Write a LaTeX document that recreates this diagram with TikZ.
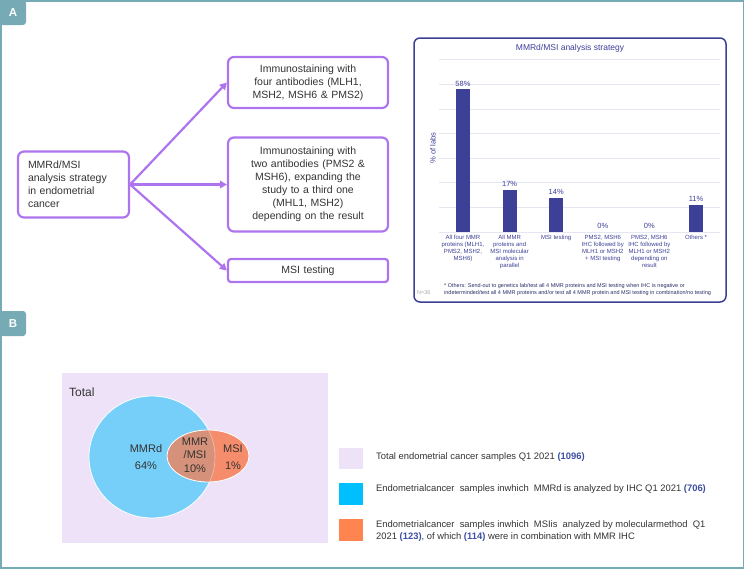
\documentclass[tikz,border=0pt]{standalone}
\usepackage{fontspec}
\setmainfont{Liberation Sans}
\usetikzlibrary{arrows.meta}

\definecolor{framecol}{RGB}{118,170,181}
\definecolor{flowcol}{RGB}{174,116,238}
\definecolor{chartcol}{RGB}{60,64,150}
\definecolor{gridcol}{RGB}{230,230,242}
\definecolor{totalcol}{RGB}{237,226,248}
\definecolor{mmrcol}{RGB}{118,207,248}
\definecolor{msicol}{RGB}{245,140,108}
\definecolor{bothcol}{RGB}{214,145,122}
\definecolor{legblue}{RGB}{0,191,255}
\definecolor{legorange}{RGB}{255,132,80}
\definecolor{numcol}{RGB}{61,79,160}
\definecolor{txtcol}{RGB}{51,51,51}

\newcommand{\labnum}[1]{\textcolor{numcol}{\textbf{(#1)}}}

\tikzset{
flowbox/.style={draw=flowcol, line width=2.2pt, rounded corners=6pt, align=center, text=txtcol,
  font=\fontsize{10.5}{13}\selectfont, inner sep=0pt, minimum width=160pt, text width=150pt},
flowarrow/.style={-{Triangle[length=7pt,width=7.5pt]}, draw=flowcol, line width=2.2pt},
panellabel/.style={fill=framecol, text=white, font=\bfseries\fontsize{11.5}{11.5}\selectfont,
  rounded corners=3pt, minimum width=26pt, minimum height=25pt, inner sep=0pt},
vallabel/.style={font=\fontsize{7.5}{8}\selectfont, text=chartcol, anchor=south, inner sep=0pt},
catlabel/.style={font=\fontsize{6}{7}\selectfont, text=chartcol, align=center, anchor=north, inner sep=0pt},
venntext/.style={font=\fontsize{11}{13.5}\selectfont, text=txtcol, align=center},
legtext/.style={font=\fontsize{9.4}{12}\selectfont, text=txtcol, anchor=west, align=left, inner sep=0pt},
}

\begin{document}
\begin{tikzpicture}[x=1pt, y=-1pt]
\useasboundingbox (0,0) rectangle (745,570);

% outer frame and panel labels
\draw[framecol, line width=1.5pt] (0.8,0.8) rectangle (743.5,568);
\node[panellabel] (labA) at (13,12.5) {A};
\node[panellabel] (labB) at (13,323.5) {B};

% A: strategy flow
\node[flowbox, minimum width=111pt, text width=91pt, align=left, minimum height=66pt] (src) at (73.5,184.5)
  {MMRd/MSI\\analysis strategy\\in endometrial\\cancer};
\node[flowbox, minimum height=51pt] (four) at (308,82.5)
  {Immunostaining with\\four antibodies (MLH1,\\MSH2, MSH6 \& PMS2)};
\node[flowbox, minimum height=94pt] (two) at (308,184.5)
  {Immunostaining with\\two antibodies (PMS2 \&\\MSH6), expanding the\\study to a third one\\(MHL1, MSH2)\\depending on the result};
\node[flowbox, minimum height=23pt, rounded corners=3pt] (msi) at (308,270.5) {MSI testing};

\draw[flowarrow] (src.east) -- (four.west);
\draw[flowarrow] (src.east) -- (two.west);
\draw[flowarrow] (src.east) -- (msi.west);

% A: bar chart
\draw[chartcol, line width=1.5pt, rounded corners=6pt] (414,38) rectangle (726,302);
\node[font=\fontsize{8.5}{10}\selectfont, text=chartcol] (title) at (570,48) {MMRd/MSI analysis strategy};
\foreach \p in {0,10,...,70}
  \draw[gridcol, line width=0.8pt] (439,{232-2.46*\p}) -- (720,{232-2.46*\p});
\node[rotate=90, font=\fontsize{7.6}{8}\selectfont, text=chartcol] (ylab) at (433,148) {\% of labs};

\foreach \i/\v/\lab in {0/58/{All four MMR\\proteins (MLH1,\\PMS2, MSH2,\\MSH6)},
    1/17/{All MMR\\proteins and\\MSI molecular\\analysis in\\parallel},
    2/14/{MSI testing},
    3/0/{PMS2, MSH6\\IHC followed by\\MLH1 or MSH2\\+ MSI testing},
    4/0/{PMS2, MSH6\\IHC followed by\\MLH1 or MSH2\\depending on\\result},
    5/11/{Others *}} {
  \pgfmathsetmacro{\xc}{463+46.6*\i}
  \pgfmathsetmacro{\yt}{232-2.46*\v}
  \ifnum\v>0 \fill[chartcol] (\xc-7,232) rectangle (\xc+7,\yt); \fi
  \node[vallabel] (val\i) at (\xc,\yt-3) {\v\%};
  \node[catlabel] (cat\i) at (\xc,235) {\lab};
}

\node[font=\fontsize{5.5}{7}\selectfont, text=chartcol!70!black, anchor=west, align=left, inner sep=0pt] (note) at (444,289.5)
  {* Others: Send-out to genetics lab/test all 4 MMR proteins and MSI testing when IHC is negative or\\
   indeterminded/test all 4 MMR proteins and/or test all 4 MMR protein and MSI testing in combination/no testing};
\node[font=\fontsize{5.5}{6}\selectfont, text=gray!70, anchor=west, inner sep=0pt] (nlabs) at (417,293) {N=36};

% B: venn diagram
\fill[totalcol] (62,373) rectangle (328,543);
\node[font=\fontsize{12}{14}\selectfont, text=txtcol, anchor=west, inner sep=0pt] (total) at (69,392) {Total};
\draw[white, fill=mmrcol, line width=0.8pt] (152,457) ellipse [x radius=63pt, y radius=61pt];
\fill[msicol] (208,456) ellipse [x radius=41pt, y radius=26pt];
\begin{scope}
  \clip (152,457) ellipse [x radius=63pt, y radius=61pt];
  \fill[bothcol] (208,456) ellipse [x radius=41pt, y radius=26pt];
\end{scope}
\begin{scope}
  \clip (208,456) ellipse [x radius=41pt, y radius=26pt];
  \draw[white, opacity=0.45, line width=0.6pt] (152,457) ellipse [x radius=63pt, y radius=61pt];
\end{scope}
\draw[white, line width=0.8pt] (208,456) ellipse [x radius=41pt, y radius=26pt];

\node[venntext] (mmrd) at (146,457) {MMRd\\[3pt]64\%};
\node[venntext] (both) at (195,455) {MMR\\/MSI\\10\%};
\node[venntext] (msionly) at (233,457) {MSI\\[3pt]1\%};

% B: legend
\fill[totalcol] (339,448) rectangle (363,469);
\fill[legblue] (339,483) rectangle (363,505);
\fill[legorange] (339,519) rectangle (363,541);
\node[legtext] (legtotal) at (376,457.5) {Total endometrial cancer samples Q1 2021 \labnum{1096}};
\node[legtext] (legmmr) at (376,489.5) {Endometrialcancer\ \ samples inwhich\ \ MMRd is analyzed by IHC Q1 2021 \labnum{706}};
\node[legtext] (legmsi) at (376,531)
  {Endometrialcancer\ \ samples inwhich\ \ MSIis\ \ analyzed by molecularmethod\ \ Q1\\
   2021 \labnum{123}, of which \labnum{114} were in combination with MMR IHC};

\end{tikzpicture}
\end{document}
